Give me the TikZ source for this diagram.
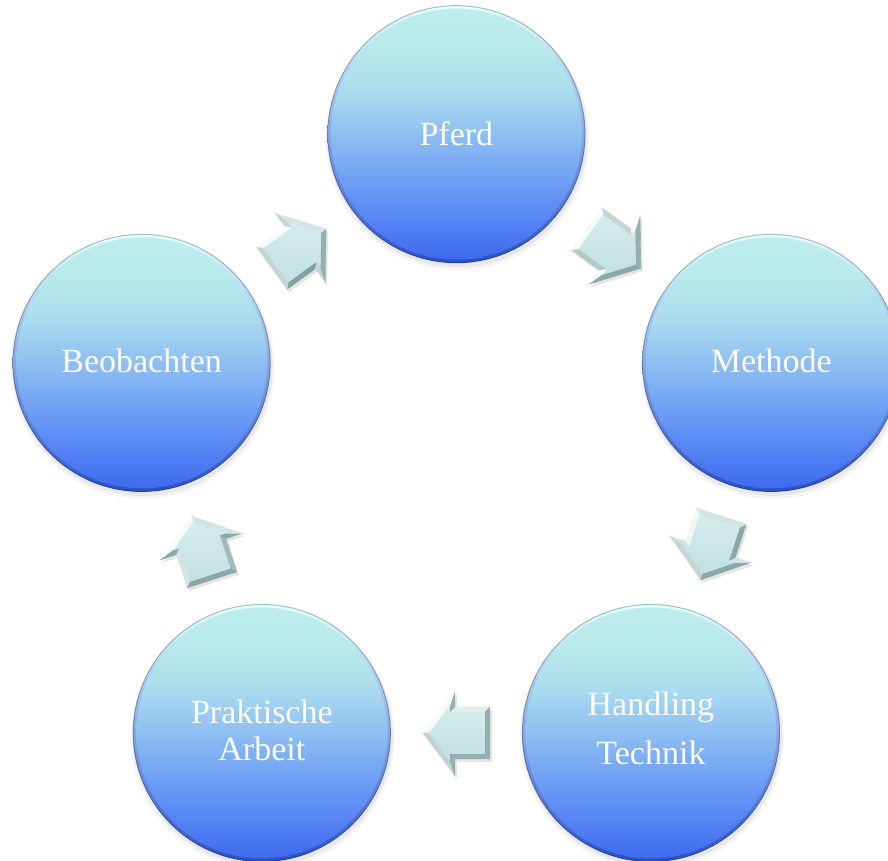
\documentclass[tikz,border=0pt]{standalone}
\usepackage{fontspec}
\setmainfont{Liberation Serif}
\usetikzlibrary{calc}
\definecolor{cA}{RGB}{62,106,238}
\definecolor{cB}{RGB}{85,131,244}
\definecolor{cC}{RGB}{108,156,245}
\definecolor{cD}{RGB}{142,191,242}
\definecolor{cE}{RGB}{173,223,238}
\definecolor{cF}{RGB}{184,233,235}
\definecolor{cG}{RGB}{190,237,236}
\pgfdeclareverticalshading{ballshade}{100bp}{color(0bp)=(cA); color(25bp)=(cA); color(32.5bp)=(cB); color(40bp)=(cC); color(50bp)=(cD); color(60bp)=(cE); color(67.5bp)=(cF); color(75bp)=(cG); color(100bp)=(cG)}
\definecolor{rimlight}{RGB}{232,253,253}
\definecolor{rimdark}{RGB}{44,80,196}
\definecolor{edgetop}{RGB}{150,192,200}
\definecolor{edgebot}{RGB}{34,62,165}
\definecolor{bvlight}{RGB}{246,252,252}
\definecolor{bvdark}{RGB}{132,162,166}
\definecolor{bvfacetop}{RGB}{212,236,236}
\definecolor{bvfacebot}{RGB}{194,224,225}
\newcommand\bvfacet[6]{%
  \pgfmathtruncatemacro\bvp{50+50*cos(#1+#2-135)}%
  \fill[bvlight!\bvp!bvdark, draw=bvlight!\bvp!bvdark, line width=0.4pt] #3 -- #4 -- #5 -- #6 -- cycle;}
\tikzset{
  lbl/.style={text=white, font=\fontsize{34}{40}\selectfont, inner sep=0pt},
  ball/.style={circle, minimum size=258pt, inner sep=0pt},
  bevarrow/.pic={
    \begin{scope}[shift={(2,-3)},rotate=#1]
      \fill[black,opacity=0.10] (-33.5,-26) -- (1.5,-26) -- (1.5,-42.5) -- (33.5,0) -- (1.5,42.5) -- (1.5,26) -- (-33.5,26) -- cycle;
    \end{scope}
    \begin{scope}[rotate=#1]
      \bvfacet{-90}{#1}{(-33.5,-26)}{(1.5,-26)}{(6.5,-21)}{(-28.5,-21)}
      \bvfacet{180}{#1}{(1.5,-26)}{(1.5,-42.5)}{(6.5,-27.55)}{(6.5,-21)}
      \bvfacet{-36.97}{#1}{(1.5,-42.5)}{(33.5,0)}{(27.24,0)}{(6.5,-27.55)}
      \bvfacet{36.97}{#1}{(33.5,0)}{(1.5,42.5)}{(6.5,27.55)}{(27.24,0)}
      \bvfacet{180}{#1}{(1.5,42.5)}{(1.5,26)}{(6.5,21)}{(6.5,27.55)}
      \bvfacet{90}{#1}{(1.5,26)}{(-33.5,26)}{(-28.5,21)}{(6.5,21)}
      \bvfacet{180}{#1}{(-33.5,26)}{(-33.5,-26)}{(-28.5,-21)}{(-28.5,21)}
      \shade[top color=bvfacetop,bottom color=bvfacebot] (-28.5,-21) -- (6.5,-21) -- (6.5,-27.55) -- (27.24,0) -- (6.5,27.55) -- (6.5,21) -- (-28.5,21) -- cycle;
    \end{scope}
  }
}
\begin{document}
\begin{tikzpicture}[x=1pt,y=1pt]
\useasboundingbox (0,0) rectangle (888,861);
\fill[white] (0,0) rectangle (888,861);
\coordinate (O) at (456.4,395.8);
\foreach \n/\a in {P/90,M/18,H/-54,A/-126,B/162}{
  \node[ball] (\n) at ($(O)+(\a:331)$) {};
}
\foreach \n in {P,M,H,A,B}{
  \fill[black,opacity=0.04] ($(\n.center)+(1,-4)$) circle (132);
  \fill[black,opacity=0.05] ($(\n.center)+(1,-3)$) circle (130);
  \shade[top color=edgetop,bottom color=edgebot] (\n.center) circle (129);
  \shade[top color=rimlight,bottom color=rimdark] (\n.center) circle (128);
  \shade[shading=ballshade] (\n.center) circle (125.5);
}
\pic (a1) at ($(B)!0.5!(P)$) {bevarrow=36};
\pic (a2) at ($(P)!0.5!(M)$) {bevarrow=-36};
\pic (a3) at ($(M)!0.5!(H)$) {bevarrow=-108};
\pic (a4) at ($(H)!0.5!(A)$) {bevarrow=180};
\pic (a5) at ($(A)!0.5!(B)$) {bevarrow=108};
\node[lbl, anchor=base] (tP) at ($(P)+(0,-11)$) {Pferd};
\node[lbl, anchor=base] (tM) at ($(M)+(0,-10)$) {Methode};
\node[lbl, anchor=base] (tB) at ($(B)+(0,-10)$) {Beobachten};
\node[lbl, anchor=base] (tA1) at ($(A)+(0,9)$) {Praktische};
\node[lbl, anchor=base] (tA2) at ($(A)+(0,-28)$) {Arbeit};
\node[lbl, anchor=base] (tH1) at ($(H)+(0,17)$) {Handling};
\node[lbl, anchor=base] (tH2) at ($(H)+(0,-32)$) {Technik};
\end{tikzpicture}
\end{document}
